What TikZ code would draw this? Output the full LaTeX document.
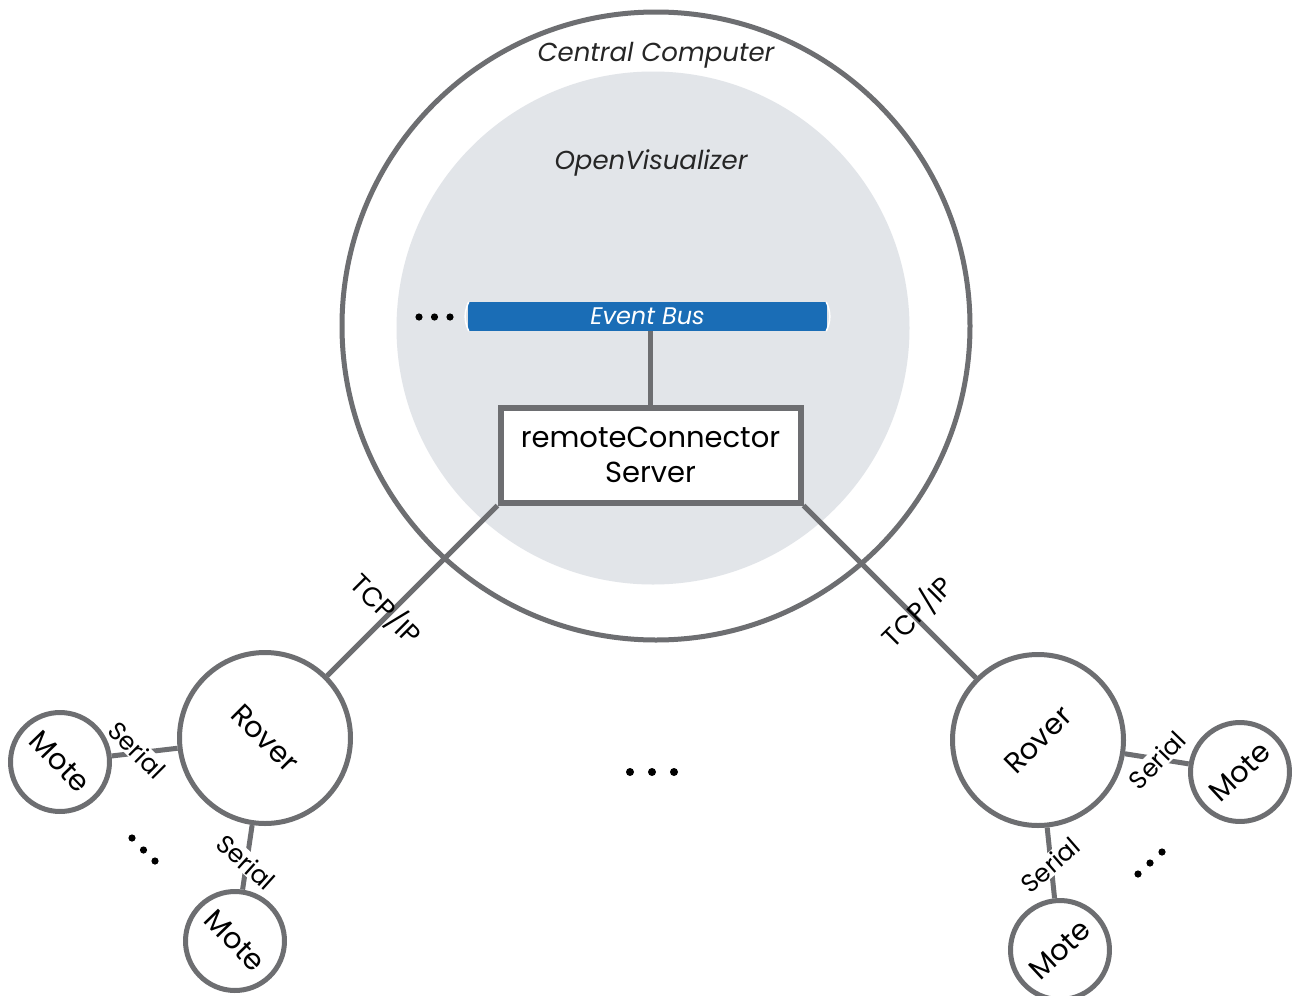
\documentclass[tikz,border=0pt]{standalone}
\usepackage{fontspec}
\setmainfont{Poppins}
\definecolor{lgray}{HTML}{6D6E71}
\definecolor{fillgray}{HTML}{E2E5E9}
\definecolor{busblue}{HTML}{1A6DB6}
\begin{document}
\begin{tikzpicture}[x=1pt,y=-1pt,
  edge/.style={draw=lgray, line width=5pt},
  ring/.style={circle, draw=lgray, line width=5pt, fill=white, inner sep=0pt, text=black},
  rovernode/.style={ring, minimum size=171pt, font=\fontsize{29}{32}\selectfont},
  motenode/.style={ring, minimum size=99pt, font=\fontsize{29}{32}\selectfont},
  seriallbl/.style={fill=white, inner sep=1pt, font=\fontsize{25}{28}\selectfont},
  tcplbl/.style={inner sep=0pt, font=\fontsize{27}{30}\selectfont},
  ttl/.style={font=\fontsize{26}{30}\selectfont\itshape, text=black!85}]
\useasboundingbox (0,0) rectangle (1302,996);
\fill[white] (0,0) rectangle (1302,996);
% central computer and OpenVisualizer
\node[circle, draw=lgray, line width=5pt, minimum size=628pt, inner sep=0pt] (cc) at (656,326) {};
\node[circle, fill=fillgray, minimum size=513pt, inner sep=0pt] (ov) at (653,328) {};
\node[ttl] (cctitle) at (656,55) {Central Computer};
\node[ttl] (ovtitle) at (651,163) {OpenVisualizer};
% event bus
\node[rectangle, fill=busblue, minimum width=359pt, minimum height=29pt, inner sep=0pt,
      text=white, font=\fontsize{24}{28}\selectfont\itshape] (bus) at (647.5,316.5) {Event Bus};
\draw[white, line width=1.5pt] ([xshift=1pt]bus.north west) to[bend right=25] ([xshift=1pt]bus.south west);
\draw[white, line width=1.5pt] ([xshift=-1pt]bus.north east) to[bend left=25] ([xshift=-1pt]bus.south east);
\fill (419,317) circle (3.6pt) (434.5,317) circle (3.6pt) (450,317) circle (3.6pt);
% server box
\node[rectangle, draw=lgray, line width=6pt, fill=white, minimum width=300pt, minimum height=95pt,
      align=center, inner sep=0pt, font=\fontsize{29}{35}\selectfont] (box) at (650.5,455) {remoteConnector\\Server};
\draw[edge] (box.north |- bus.south) -- (box.north);
% rovers and motes
\node[rovernode, rotate=-45] (roverL) at (265,738) {Rover};
\node[rovernode, rotate=45] (roverR) at (1038,740) {Rover};
\node[motenode, rotate=-46] (moteL) at (60,762) {Mote};
\node[motenode, rotate=-46] (moteLB) at (235,941) {Mote};
\node[motenode, rotate=43] (moteR) at (1240,772) {Mote};
\node[motenode, rotate=43] (moteRB) at (1060,950) {Mote};
% connectors
\draw[edge] (box.south west) -- (roverL);
\draw[edge] (box.south east) -- (roverR);
\draw[edge] (roverL) -- (moteL);
\draw[edge] (roverL) -- (moteLB);
\draw[edge] (roverR) -- (moteR);
\draw[edge] (roverR) -- (moteRB);
% labels
\node[tcplbl, rotate=-45] (tcpL) at (386,609) {TCP/IP};
\node[tcplbl, rotate=45] (tcpR) at (917,612) {TCP/IP};
\node[seriallbl, rotate=-45] (serL) at (137,750) {Serial};
\node[seriallbl, rotate=-42] (serLB) at (246,862) {Serial};
\node[seriallbl, rotate=46] (serR) at (1157,760) {Serial};
\node[seriallbl, rotate=41] (serRB) at (1050,865) {Serial};
% ellipses
\fill (132,838) circle (3.6pt) (143.5,850) circle (3.6pt) (155,861) circle (3.6pt);
\fill (1138,874) circle (3.6pt) (1150,863) circle (3.6pt) (1162,852) circle (3.6pt);
\fill (630,772) circle (4pt) (652,772) circle (4pt) (674,772) circle (4pt);
\end{tikzpicture}
\end{document}
